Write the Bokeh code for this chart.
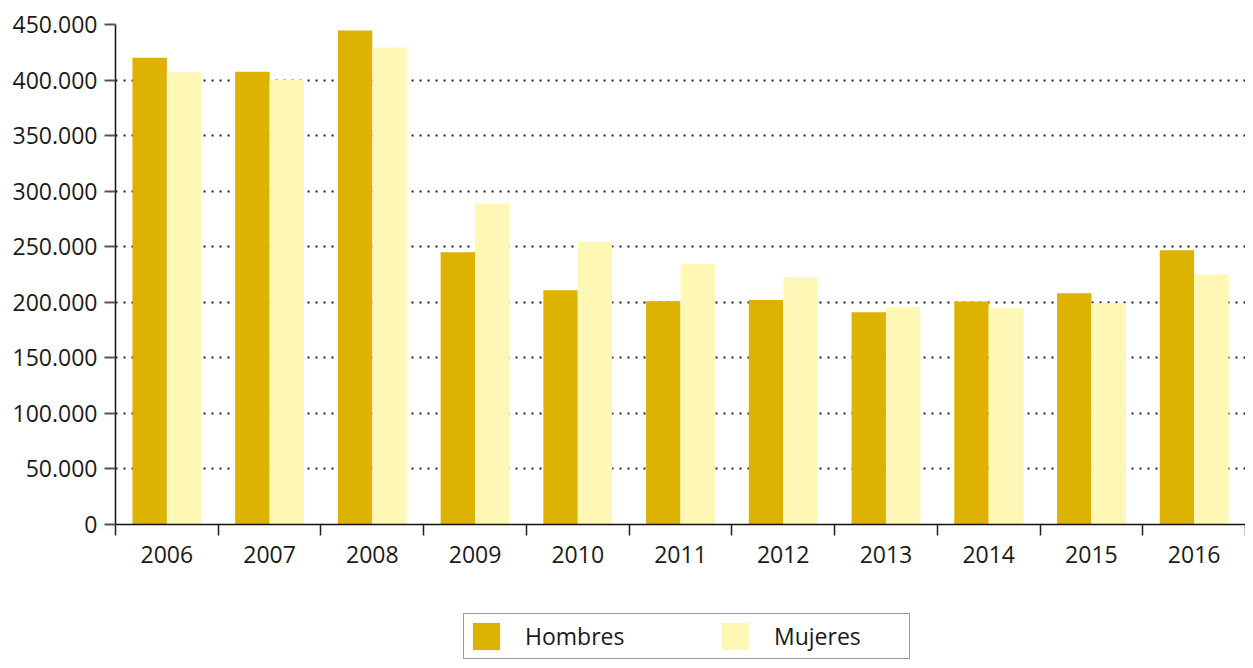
import numpy as np
from bokeh.plotting import figure
from bokeh.layouts import column
from bokeh.models import (ColumnDataSource, Range1d, FixedTicker, Legend, LegendItem)
from bokeh.transform import dodge
from bokeh.embed import file_html
from bokeh.resources import INLINE

years = ["2006", "2007", "2008", "2009", "2010", "2011", "2012", "2013", "2014", "2015", "2016"]
hombres = [420000, 407500, 444500, 245000, 210800, 201000, 202000, 191000, 200700, 208200, 246900]
mujeres = [406800, 400300, 429300, 289000, 254400, 234500, 222800, 195600, 194700, 199200, 225300]
ytick_values = [0, 50000, 100000, 150000, 200000, 250000, 300000, 350000, 400000, 450000]
ytick_labels = ["0", "50.000", "100.000", "150.000", "200.000", "250.000",
                "300.000", "350.000", "400.000", "450.000"]
series_names = ["Hombres", "Mujeres"]
colors = ["#DDB200", "#FFF7B5"]

FONT = "Open Sans"
n = len(years)
centers = [i + 0.5 for i in range(n)]
bounds = [float(i) for i in range(n + 1)]

src = ColumnDataSource(dict(xc=centers, hombres=hombres, mujeres=mujeres))

W = 1245
p = figure(width=W, height=603, output_backend="svg", toolbar_location=None,
           x_range=Range1d(0, n), y_range=Range1d(0, 450000),
           min_border_left=115, min_border_top=24, min_border_right=0,
           min_border_bottom=79)
p.outline_line_color = None
p.background_fill_color = "white"
p.border_fill_color = "white"

bw = 0.335
r1 = p.vbar(x=dodge("xc", -bw / 2, range=p.x_range), top="hombres", width=bw,
            source=src, fill_color=colors[0], line_color=None)
r2 = p.vbar(x=dodge("xc", bw / 2, range=p.x_range), top="mujeres", width=bw,
            source=src, fill_color=colors[1], line_color=None)

# x axis
xa = p.xaxis[0]
xa.ticker = FixedTicker(ticks=centers, minor_ticks=bounds)
xa.major_label_overrides = {c: y for c, y in zip(centers, years)}
xa.major_tick_out = 0
xa.major_tick_in = 0
xa.minor_tick_out = 11
xa.minor_tick_in = 0
xa.minor_tick_line_color = "#222222"
xa.minor_tick_line_width = 1.5
xa.axis_line_color = "#111111"
xa.axis_line_width = 1.5
xa.major_label_text_font = FONT
xa.major_label_text_font_size = "23px"
xa.major_label_text_color = "#1a1a1a"
xa.major_label_standoff = 10

# y axis
ya = p.yaxis[0]
ya.ticker = FixedTicker(ticks=ytick_values)
ya.major_label_overrides = {v: l for v, l in zip(ytick_values, ytick_labels)}
ya.major_tick_out = 11
ya.major_tick_in = 0
ya.major_tick_line_color = "#555555"
ya.major_tick_line_width = 2
ya.minor_tick_line_color = None
ya.axis_line_color = "#111111"
ya.axis_line_width = 1.5
ya.major_label_text_font = FONT
ya.major_label_text_font_size = "23px"
ya.major_label_text_color = "#1a1a1a"
ya.major_label_standoff = 7

p.xgrid.grid_line_color = None
p.ygrid.ticker = FixedTicker(ticks=ytick_values)
p.ygrid.grid_line_color = "#222222"
p.ygrid.grid_line_width = 2
p.ygrid.grid_line_dash = "2 6"

# legend in a slim figure below the chart (proxy glyphs of zero height)
pl = figure(width=W, height=57, output_backend="svg", toolbar_location=None,
            x_range=Range1d(0, 1), y_range=Range1d(0, 1),
            x_axis_location=None, y_axis_location=None,
            min_border_left=0, min_border_right=0, min_border_top=0, min_border_bottom=0)
pl.outline_line_color = None
pl.xgrid.visible = False
pl.ygrid.visible = False
proxy = ColumnDataSource(dict(x=[0.5], top=[0.0]))
l1 = pl.vbar(x="x", top="top", width=0.01, source=proxy, fill_color=colors[0], line_color=None)
l2 = pl.vbar(x="x", top="top", width=0.01, source=proxy, fill_color=colors[1], line_color=None)

legend = Legend(items=[LegendItem(label=series_names[0], renderers=[l1]),
                       LegendItem(label=series_names[1], renderers=[l2])],
                location=(348, 1), orientation="horizontal")
legend.border_line_color = "#333333"
legend.border_line_width = 1.5
legend.padding = 5
legend.spacing = 63
legend.glyph_width = 34
legend.glyph_height = 34
legend.label_standoff = 22
legend.label_width = 130
legend.label_text_font = FONT
legend.label_text_font_size = "23px"
legend.label_text_color = "#1a1a1a"
legend.margin = 0
pl.add_layout(legend, "center")

layout = column(p, pl, spacing=0)
open("out.html", "w").write(file_html(layout, INLINE))
